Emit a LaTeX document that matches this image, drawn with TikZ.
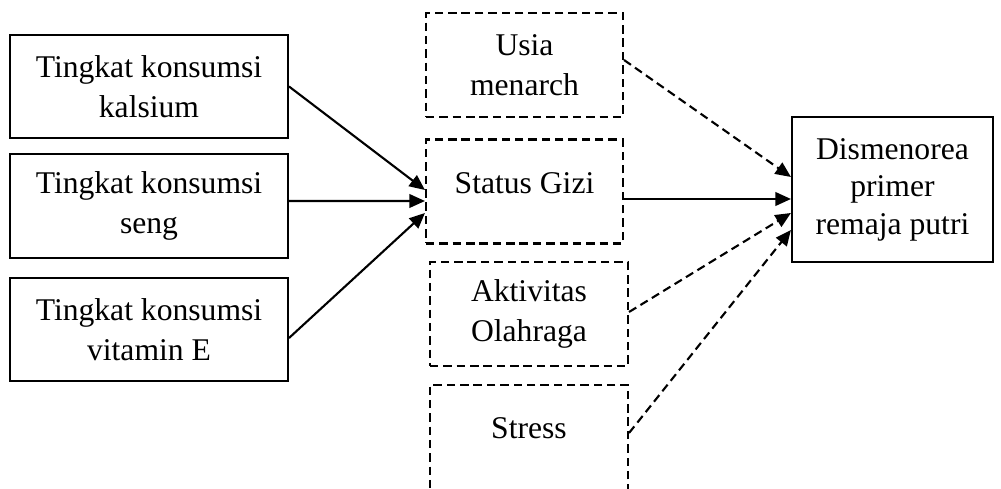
\documentclass[tikz,border=0pt]{standalone}
\usepackage{fontspec}
\setmainfont{Liberation Serif}
\usetikzlibrary{arrows.meta,calc}

\tikzstyle{factor} = [rectangle, draw=black, line width=1.2pt, minimum width=5.56cm, minimum height=2.07cm, align=center, inner sep=0pt]
\tikzstyle{extfactor} = [factor, dash pattern=on 4.8pt off 2.8pt, minimum width=3.94cm, minimum height=2.08cm]
\tikzstyle{arrow} = [line width=1.2pt,->,>={Triangle[length=0.31cm,width=0.27cm]}]
\tikzstyle{dasharrow} = [arrow, dash pattern=on 4.8pt off 2.8pt]

\begin{document}
\begin{tikzpicture}[x=0.02cm, y=-0.02cm, font=\fontsize{18}{22.8}\selectfont]
\useasboundingbox (0,0) rectangle (1001,489);
\clip (0,0) rectangle (1001,489);

\node (kalsium) [factor] at (149,86.5) {Tingkat konsumsi\\kalsium};
\node (seng) [factor] at (149,206) {Tingkat konsumsi\\seng};
\node (vite) [factor] at (149,329.5) {Tingkat konsumsi\\vitamin E};

\node (usia) [extfactor] at (524.5,65) {Usia\\menarch};
\node (gizi) [extfactor, label={[yshift=0.17cm]center:Status Gizi}] at (524.5,191.5) {};
\node (olahraga) [extfactor, minimum width=3.96cm] at (529,314) {Aktivitas\\Olahraga};
\node (stress) [extfactor, minimum width=3.96cm, minimum height=2.2cm, label={[yshift=0.24cm]center:Stress}] at (529,440) {};

\node (dismenorea) [factor, minimum width=4.02cm, minimum height=2.9cm, font=\fontsize{18}{21.3}\selectfont] at (892.5,189.5) {Dismenorea\\primer\\remaja putri};

\draw [arrow] (kalsium.east) -- ($(gizi.west)+(0,-1.5)$);
\draw [arrow] ($(seng.east)+(0,-5)$) -- ($(gizi.west)+(0,9.5)$);
\draw [arrow] ($(vite.east)+(0,8.5)$) -- ($(gizi.west)+(0,21.5)$);
\draw [dasharrow] ($(usia.east)+(0,-5)$) -- ($(dismenorea.west)+(0,-12.5)$);
\draw [arrow] ($(gizi.east)+(0,7.5)$) -- ($(dismenorea.west)+(0,9.5)$);
\draw [dasharrow] ($(olahraga.east)+(0,-2)$) -- ($(dismenorea.west)+(0,23.5)$);
\draw [dasharrow] ($(stress.east)+(0,-7)$) -- ($(dismenorea.west)+(0,40.5)$);

\end{tikzpicture}
\end{document}
